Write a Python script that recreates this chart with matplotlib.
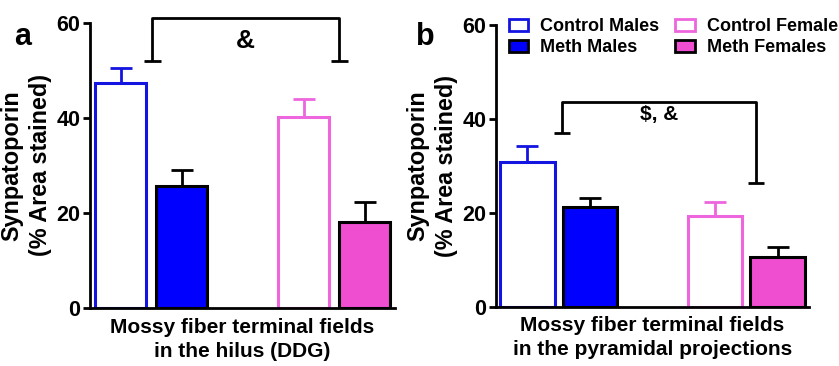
import matplotlib
matplotlib.use("Agg")
import matplotlib.pyplot as plt
from matplotlib.patches import Patch

plt.rcParams['font.family'] = ['Liberation Sans', 'DejaVu Sans']
plt.rcParams['font.weight'] = 'bold'

groups = ["Control Males", "Meth Males", "Control Females", "Meth Females"]
positions = [0, 1, 3, 4]
a_means = [47.3, 25.7, 40.3, 18.2]
a_sem = [3.3, 3.3, 3.8, 4.2]
b_means = [30.8, 21.2, 19.4, 10.6]
b_sem = [3.4, 2.0, 2.8, 2.2]
yticks = [0, 20, 40, 60]
xlabels = ["Mossy fiber terminal fields\nin the hilus (DDG)",
           "Mossy fiber terminal fields\nin the pyramidal projections"]
ylabel = "Synpatoporin\n(% Area stained)"

blue = '#0000FF'
pink_edge = '#EE66DD'
pink_fill = '#EE4ECF'
faces = ['white', blue, 'white', pink_fill]
edges = ['#1414E0', 'black', pink_edge, 'black']
errc = ['#1414E0', 'black', pink_edge, 'black']

fig = plt.figure(figsize=(8.39, 3.66), dpi=100)
axa = fig.add_axes([90/839, 58/366, 305/839, 285/366])
axb = fig.add_axes([496/839, 59.3/366, 313/839, 281.7/366])

def draw(ax, means, sems, width):
    for x, m, s, fc, ec, erc in zip(positions, means, sems, faces, edges, errc):
        ax.bar(x, m, width=width, facecolor=fc, edgecolor=ec, linewidth=2.2, zorder=2)
        ax.errorbar(x, m, yerr=[[0], [s]], fmt='none', ecolor=erc, elinewidth=2,
                    capsize=8, capthick=2, zorder=1)
    ax.set_xlim(-0.5, 4.5)
    ax.set_ylim(0, 60)
    ax.set_yticks(yticks)
    ax.set_xticks([])
    for sp in ['top', 'right']:
        ax.spines[sp].set_visible(False)
    for sp in ['left', 'bottom']:
        ax.spines[sp].set_linewidth(2)
    ax.tick_params(axis='y', width=2, length=5, labelsize=15.5, pad=2)
    for t in ax.get_yticklabels():
        t.set_fontweight('bold')
    ax.set_ylabel(ylabel, fontsize=16.8, fontweight='bold', labelpad=3, linespacing=1.3)

draw(axa, a_means, a_sem, 0.85)
draw(axb, b_means, b_sem, 0.87)
axa.set_xlabel(xlabels[0], fontsize=15, fontweight='bold', labelpad=7, linespacing=1.35)
axb.set_xlabel(xlabels[1], fontsize=15, fontweight='bold', labelpad=7, linespacing=1.3)

def bracket(ax, x1, x2, ytop, y1, y2, half, text, ytext, fs):
    kw = dict(color='black', lw=2, clip_on=False, solid_capstyle='butt')
    ax.plot([x1, x1, x2, x2], [y1, ytop, ytop, y2], **kw)
    ax.plot([x1 - half, x1 + half], [y1, y1], **kw)
    ax.plot([x2 - half, x2 + half], [y2, y2], **kw)
    ax.text((x1 + x2) / 2, ytext, text, ha='center', va='center',
            fontsize=fs, fontweight='bold')

bracket(axa, 0.52, 3.59, 61.0, 52.1, 52.1, 0.14, "&", 56.3, 19)
bracket(axb, 0.555, 3.65, 43.7, 37.1, 26.3, 0.13, "$, &", 41.0, 15)

handles = [Patch(facecolor=fc, edgecolor=ec, linewidth=2) for fc, ec in zip(faces, edges)]
leg = axb.legend(handles, groups, ncol=2, loc='upper left', bbox_to_anchor=(0.04, 1.025),
                 frameon=False, fontsize=13, handlelength=1.1, handleheight=0.65,
                 handletextpad=0.65, columnspacing=0.9, labelspacing=0.22,
                 borderaxespad=0, borderpad=0)
for t in leg.get_texts():
    t.set_fontweight('bold')

fig.text(23/839, 1 - 37/366, 'a', fontsize=22, fontweight='bold', ha='center', va='center')
fig.text(425/839, 1 - 37/366, 'b', fontsize=22, fontweight='bold', ha='center', va='center')

fig.savefig('out.png', dpi=100)
